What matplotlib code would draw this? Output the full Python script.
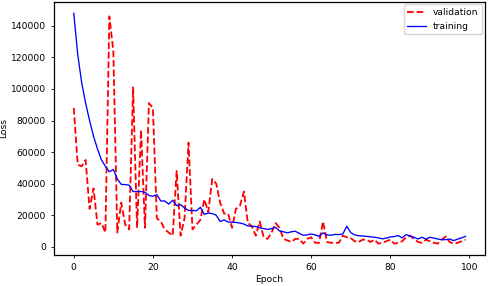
import numpy as np
import matplotlib
matplotlib.use("Agg")
import matplotlib.pyplot as plt

# Verlust pro Epoche (in Tausend)
epochs = np.arange(100)

validation_k = [
    88, 52, 51, 55, 24, 37, 14, 15, 9, 146,
    124, 9, 28, 14, 11, 101, 12, 74, 12, 91,
    88, 18, 16, 11, 9, 7, 48, 7, 18, 66,
    11, 14, 17, 30, 22, 43, 40, 28, 21, 21,
    12, 24, 26, 35, 15, 13, 7, 16, 6, 5,
    9, 15, 12, 5, 4, 3, 5, 5, 2, 5,
    6, 2.5, 2.5, 16, 3, 2.5, 2.5, 2.5, 7, 6,
    5.5, 3.5, 3, 4.5, 4.5, 3, 4.5, 2, 2.5, 3.5,
    4.5, 2, 2.5, 3.5, 6, 7, 5, 3, 2.5, 4.5,
    3.5, 2.5, 2, 4.5, 6.5, 3, 2, 2.5, 3.5, 4.5,
]

training_k = [
    148, 122, 104, 91, 80, 70, 62, 55, 51, 47.5,
    49, 43, 39.5, 39.4, 39, 35, 35, 35, 34.5, 32.5,
    32, 33, 29, 29, 27, 29.5, 26, 26.7, 24.6, 23,
    23, 22.8, 25, 20.5, 21.4, 21, 20, 16, 17, 15.7,
    15.6, 15.4, 15, 14.4, 13.2, 13, 12.8, 12, 11.5, 11,
    11.5, 12.3, 10, 9.5, 8.8, 9.5, 9.8, 8.5, 7.3, 7.5,
    8.1, 7.5, 6.6, 8.8, 7.5, 7.3, 7.8, 7.7, 8.1, 13,
    9, 7.5, 7, 6.8, 6.6, 6.3, 6, 5.6, 5, 5.5,
    6.2, 6.5, 7.1, 5.6, 7.7, 6.8, 6, 4.9, 6, 4.9,
    6, 5.5, 4.9, 4.5, 4.5, 4.9, 3.9, 4.8, 5.6, 6.6,
]

validation = np.array(validation_k) * 1000
training = np.array(training_k) * 1000

plt.rcParams['font.size'] = 6.6
plt.rcParams['axes.linewidth'] = 0.9
plt.rcParams['xtick.major.width'] = 0.6
plt.rcParams['ytick.major.width'] = 0.6
plt.rcParams['xtick.major.size'] = 2.5
plt.rcParams['ytick.major.size'] = 2.5

fig = plt.figure(figsize=(4.88, 2.86), dpi=100)
ax = fig.add_axes([0.111, 0.108, 0.883, 0.886])

ax.plot(epochs, validation, 'r--', linewidth=1.3, label='validation')
ax.plot(epochs, training, 'b-', linewidth=0.95, label='training')

ax.set_xlabel('Epoch', labelpad=2)
ax.set_ylabel('Loss', labelpad=2)
ax.legend(loc='upper right', borderaxespad=0.3)

fig.savefig('out.png', dpi=100)
